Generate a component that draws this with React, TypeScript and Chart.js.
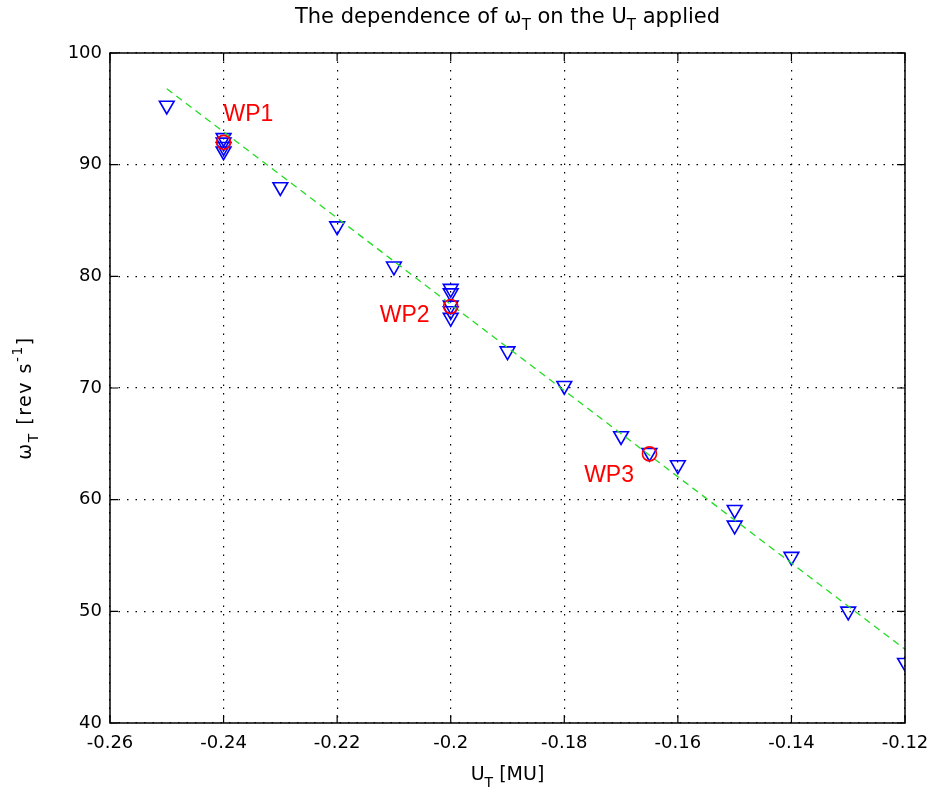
import { useEffect, useRef } from "react";
import { Chart, registerables } from "chart.js";

Chart.register(...registerables);

// ---- data ----
const measX = [-0.25, -0.24, -0.24, -0.24, -0.24, -0.23, -0.22, -0.21, -0.2, -0.2, -0.2, -0.2, -0.2, -0.19, -0.18, -0.17, -0.165, -0.16, -0.15, -0.15, -0.14, -0.13, -0.12];
const measY = [95.3, 92.4, 92.0, 91.6, 91.2, 88.0, 84.5, 80.9, 78.9, 78.5, 77.4, 76.9, 76.3, 73.3, 70.2, 65.7, 64.2, 63.1, 59.1, 57.7, 54.9, 50.0, 45.4];
const wpX = [-0.24, -0.2, -0.165];
const wpY = [92.0, 77.3, 64.1];
const wpNames = ["WP1", "WP2", "WP3"];
const wpLabelX = [-0.24, -0.2125, -0.1765];
const wpLabelY = [93.9, 75.9, 61.6];
const fitX = [-0.25, -0.12];
const fitY = [96.8, 46.6];
const xTicks = [-0.26, -0.24, -0.22, -0.2, -0.18, -0.16, -0.14, -0.12];
const yTicks = [40, 50, 60, 70, 80, 90, 100];

const FONT = "'DejaVu Sans', 'Liberation Sans', sans-serif";
const FONT2 = "'Liberation Sans', Arial, sans-serif";

type Part = { t: string; s?: "sub" | "sup" };

function drawRich(ctx: CanvasRenderingContext2D, parts: Part[], x: number, y: number, size: number, color: string, spacing = 0) {
  const small = Math.round(size * 0.72);
  (ctx as any).letterSpacing = `${spacing}px`;
  let total = 0;
  const widths: number[] = [];
  for (const p of parts) {
    ctx.font = `${p.s ? small : size}px ${FONT}`;
    const w = ctx.measureText(p.t).width;
    widths.push(w);
    total += w;
  }
  let cx = x - total / 2;
  ctx.fillStyle = color;
  ctx.textBaseline = "alphabetic";
  ctx.textAlign = "left";
  parts.forEach((p, i) => {
    ctx.font = `${p.s ? small : size}px ${FONT}`;
    const dy = p.s === "sub" ? size * 0.35 : p.s === "sup" ? -size * 0.45 : 0;
    ctx.fillText(p.t, cx, y + dy);
    cx += widths[i];
  });
  (ctx as any).letterSpacing = "0px";
}

const decorPlugin = {
  id: "decor",
  afterDraw(chart: any) {
    const ctx: CanvasRenderingContext2D = chart.ctx;
    const { left, right, top, bottom } = chart.chartArea;
    const xs = chart.scales.x;
    const ys = chart.scales.y;
    ctx.save();
    // box
    ctx.strokeStyle = "#000";
    ctx.lineWidth = 1.5;
    ctx.strokeRect(left, top, right - left, bottom - top);
    // inward ticks
    const tl = 8;
    ctx.lineWidth = 1.2;
    ctx.beginPath();
    for (const v of xTicks) {
      const px = xs.getPixelForValue(v);
      ctx.moveTo(px, bottom);
      ctx.lineTo(px, bottom - tl);
      ctx.moveTo(px, top);
      ctx.lineTo(px, top + tl);
    }
    for (const v of yTicks) {
      const py = ys.getPixelForValue(v);
      ctx.moveTo(left, py);
      ctx.lineTo(left + tl, py);
      ctx.moveTo(right, py);
      ctx.lineTo(right - tl, py);
    }
    ctx.stroke();
    // WP labels
    ctx.fillStyle = "#ff0000";
    ctx.font = `23px ${FONT2}`;
    ctx.textAlign = "left";
    ctx.textBaseline = "alphabetic";
    wpNames.forEach((n, i) => {
      ctx.fillText(n, xs.getPixelForValue(wpLabelX[i]), ys.getPixelForValue(wpLabelY[i]));
    });
    // title
    const cxm = (left + right) / 2;
    drawRich(ctx, [
      { t: "The dependence of ω" }, { t: "T", s: "sub" }, { t: " on the U" }, { t: "T", s: "sub" }, { t: " applied" },
    ], cxm, 23, 21, "#000");
    // x label
    drawRich(ctx, [{ t: "U" }, { t: "T", s: "sub" }, { t: " [MU]" }], cxm, 780, 19, "#000");
    // y label
    ctx.save();
    ctx.translate(31, 398);
    ctx.rotate(-Math.PI / 2);
    drawRich(ctx, [{ t: "ω" }, { t: "T", s: "sub" }, { t: " [rev s" }, { t: "-1", s: "sup" }, { t: "]" }], 0, 0, 19, "#000", 1.5);
    ctx.restore();
    ctx.restore();
  },
};

export default function App() {
  const ref = useRef<HTMLCanvasElement | null>(null);
  useEffect(() => {
    if (!ref.current) return;
    const chart = new Chart(ref.current, {
      type: "scatter",
      data: {
        datasets: [
          {
            label: "WP",
            data: wpX.map((x, i) => ({ x, y: wpY[i] })),
            pointStyle: "circle",
            pointRadius: 7,
            borderColor: "#ff0000",
            backgroundColor: "rgba(0,0,0,0)",
            borderWidth: 1.6,
          },
          {
            label: "fit",
            type: "line",
            data: fitX.map((x, i) => ({ x, y: fitY[i] })),
            borderColor: "#22dd22",
            borderWidth: 1.3,
            borderDash: [7, 5],
            pointRadius: 0,
            fill: false,
          } as any,
          {
            label: "meas",
            data: measX.map((x, i) => ({ x, y: measY[i] })),
            pointStyle: "triangle",
            rotation: 180,
            pointRadius: 8.5,
            borderColor: "#0000ff",
            backgroundColor: "rgba(0,0,0,0)",
            borderWidth: 1.6,
          } as any,
        ],
      },
      options: {
        animation: false,
        responsive: false,
        maintainAspectRatio: false,
        layout: { padding: { left: 0, top: 53, right: 27, bottom: 0 } },
        plugins: { legend: { display: false }, tooltip: { enabled: false }, title: { display: false } },
        scales: {
          x: {
            type: "linear",
            min: -0.26,
            max: -0.12,
            afterBuildTicks: (s: any) => { s.ticks = xTicks.map((v) => ({ value: v })); },
            afterFit: (s: any) => { s.height = 74; s.paddingLeft = 0; s.paddingRight = 0; },
            ticks: {
              callback: (v: any) => String(Number(Number(v).toFixed(2))),
              font: { family: FONT, size: 18 },
              color: "#000",
              padding: 10,
              maxRotation: 0,
            },
            grid: { color: "#000", lineWidth: 1.2, drawTicks: false },
            border: { display: false, dash: [1.5, 7] },
          },
          y: {
            type: "linear",
            min: 40,
            max: 100,
            afterBuildTicks: (s: any) => { s.ticks = yTicks.map((v) => ({ value: v })); },
            afterFit: (s: any) => { s.width = 110; s.paddingTop = 0; s.paddingBottom = 0; },
            ticks: {
              font: { family: FONT, size: 18 },
              color: "#000",
              padding: 8,
            },
            grid: { color: "#000", lineWidth: 1.2, drawTicks: false },
            border: { display: false, dash: [1.5, 7] },
          },
        },
      },
      plugins: [decorPlugin],
    });
    return () => chart.destroy();
  }, []);
  return (
    <div style={{ position: "absolute", left: 0, top: 0, width: 932, height: 797, background: "#fff" }}>
      <canvas ref={ref} width={932} height={797} style={{ display: "block" }} />
    </div>
  );
}
